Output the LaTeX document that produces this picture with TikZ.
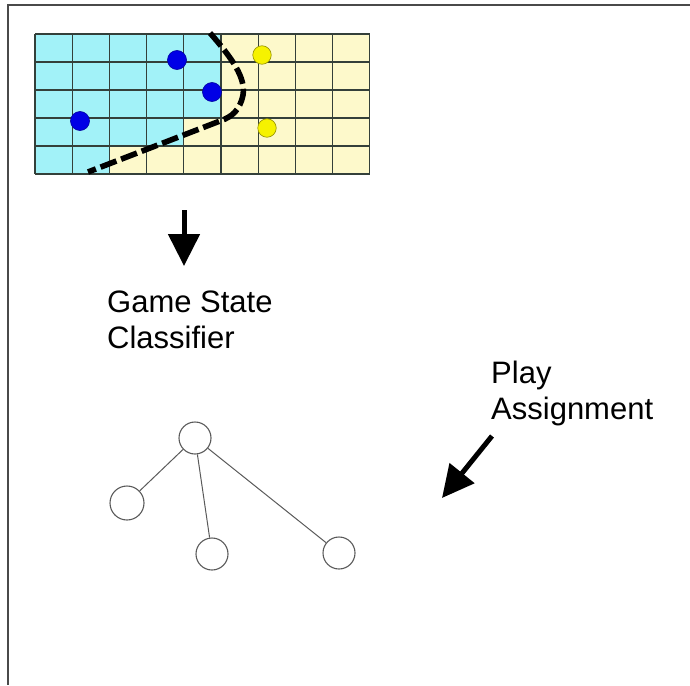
\documentclass[tikz,border=0pt]{standalone}
\usepackage{fontspec}
\setmainfont{Liberation Sans}
\usetikzlibrary{arrows.meta}
\definecolor{cellcyan}{HTML}{A2F2F8}
\definecolor{cellbeige}{HTML}{FDF9CB}
\definecolor{gridline}{HTML}{34403A}
\definecolor{frameline}{HTML}{4A4A4A}
\definecolor{dotblue}{HTML}{0000E6}
\definecolor{dotyellow}{HTML}{F6F200}
\definecolor{treeline}{HTML}{5A5A5A}
\tikzset{
  frame/.style={draw=frameline, line width=1.6pt},
  bluedot/.style={circle, fill=dotblue, draw=dotblue!70!black, line width=0.6pt, minimum size=19pt, inner sep=0pt},
  yellowdot/.style={circle, fill=dotyellow, draw=dotyellow!60!black, line width=0.6pt, minimum size=18.5pt, inner sep=0pt},
  boundary/.style={draw=black, line width=5.6pt, dash pattern=on 17pt off 5pt},
  bigarrow/.style={draw=black, line width=5pt, -{Triangle[length=32pt,width=31pt]}},
  label/.style={font=\fontsize{31}{36}\selectfont, align=left, inner sep=0pt},
  treenode/.style={circle, draw=treeline, line width=1.1pt, inner sep=0pt},
  treeedge/.style={draw=treeline, line width=1pt},
}
\begin{document}
\begin{tikzpicture}[x=1pt, y=-1pt]
  \useasboundingbox (0,0) rectangle (690,685);
  % page frame: top and left rules only
  \draw[frame] (690,5) -- (8,5) -- (8,685);

  % grid of cells: cyan side and beige side
  \def\cw{37.2}
  \def\ch{28}
  \foreach \r in {0,...,4}{
    \foreach \c in {0,...,8}{
      \pgfmathtruncatemacro{\iscyan}{(\r<3 && \c<5) || (\r==3 && \c<4) || (\r==4 && \c<2) ? 1 : 0}
      \ifnum\iscyan=1
        \fill[cellcyan] (35+\c*\cw, 34+\r*\ch) rectangle ++(\cw,\ch);
      \else
        \fill[cellbeige] (35+\c*\cw, 34+\r*\ch) rectangle ++(\cw,\ch);
      \fi
    }
  }
  \foreach \c in {0,...,9}
    \draw[gridline, line width=1.3pt] (35+\c*\cw, 34) -- (35+\c*\cw, 174);
  \foreach \r in {0,...,5}
    \draw[gridline, line width=1.3pt] (35, 34+\r*\ch) -- (35+9*\cw, 34+\r*\ch);

  % decision boundary between the two sides
  \draw[boundary] (210,33) .. controls (232,58) and (246,78) .. (243,95)
        .. controls (240,110) and (232,117) .. (220,121) -- (88,172);

  % players
  \node[bluedot] (b1) at (177,60) {};
  \node[bluedot] (b2) at (212,92) {};
  \node[bluedot] (b3) at (80,121) {};
  \node[yellowdot] (y1) at (262,55) {};
  \node[yellowdot] (y2) at (267,128) {};

  % classifier step
  \coordinate (a1s) at (184,210);
  \coordinate (a1e) at (184,266);
  \draw[bigarrow] (a1s) -- (a1e);
  \node[label, anchor=base west] (gsc) at (107,348) {Game State\\Classifier};

  % play assignment step
  \node[label, anchor=base west] (pa) at (491,419) {Play\\Assignment};
  \coordinate (a2s) at (492,436);
  \coordinate (a2e) at (442,498);
  \draw[bigarrow] (a2s) -- (a2e);

  % play tree
  \node[treenode, minimum size=32pt] (root) at (195,438) {};
  \node[treenode, minimum size=34pt] (left) at (127,503) {};
  \node[treenode, minimum size=32pt] (mid) at (212,554) {};
  \node[treenode, minimum size=32pt] (right) at (339,553) {};
  \draw[treeedge] (root) -- (left);
  \draw[treeedge] (root) -- (mid);
  \draw[treeedge] (root) -- (right);
\end{tikzpicture}
\end{document}
